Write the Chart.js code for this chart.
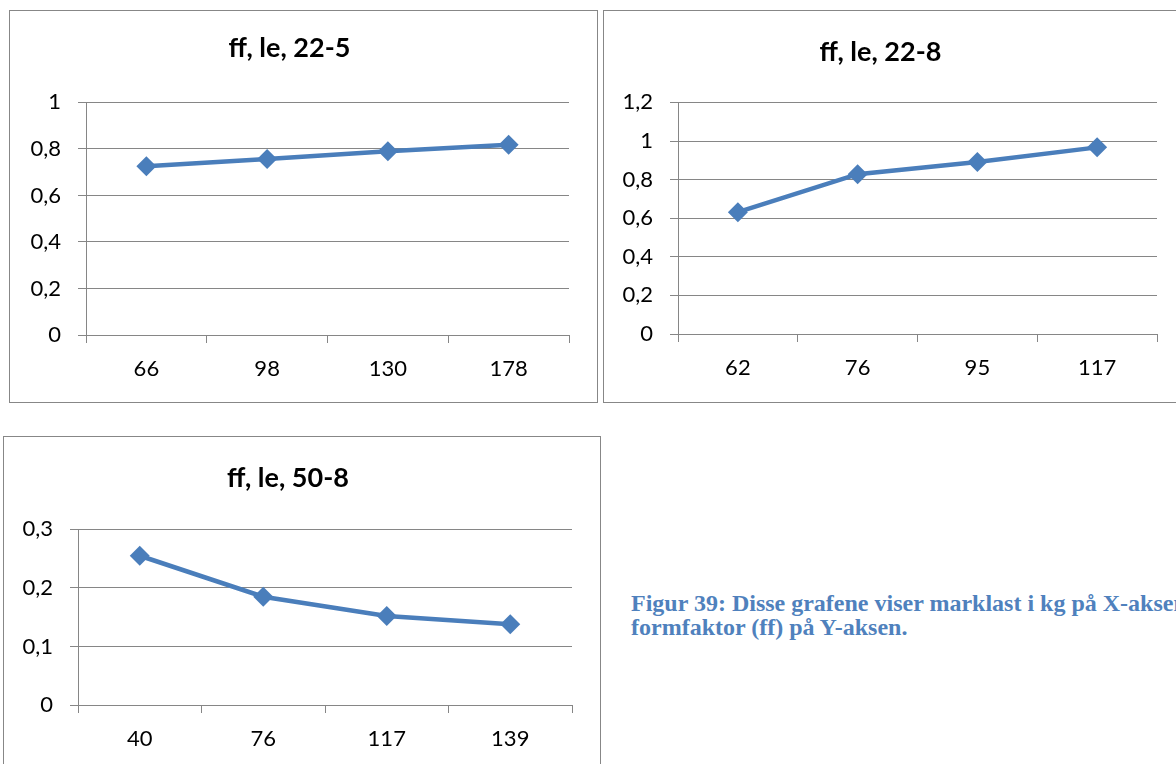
<!DOCTYPE html>
<html>
<head>
<meta charset="utf-8">
<script src="https://cdn.jsdelivr.net/npm/chart.js@4.4.0/dist/chart.umd.min.js"></script>
<style>
	body { margin: 0; background: #ffffff; width: 1176px; height: 764px; overflow: hidden; position: relative; }
	.box { position: absolute; border: 1px solid #878787; background: #fff; }
	.box canvas { display: block; }
	#caption {
		position: absolute; left: 631px; top: 591px;
		font: bold 24px "Liberation Serif", "Times New Roman", serif;
		color: #4f81bd; line-height: 24px; white-space: nowrap;
	}
</style>
</head>
<body>

<div class="box" style="left:9px; top:10px;"><canvas id="c225" width="587" height="391"></canvas></div>
<div class="box" style="left:603px; top:10px;"><canvas id="c228" width="574" height="391"></canvas></div>
<div class="box" style="left:3px; top:436px;"><canvas id="c508" width="596" height="338"></canvas></div>

<div id="caption">Figur 39: Disse grafene viser marklast i kg på X-aksen og<br>formfaktor (ff) på Y-aksen.</div>

<script>
// marklast (kg) og formfaktor (ff)
const titles = ['ff, le, 22-5', 'ff, le, 22-8', 'ff, le, 50-8'];

const kg_22_5 = ['66', '98', '130', '178'];
const ff_22_5 = [0.725, 0.757, 0.79, 0.818];

const kg_22_8 = ['62', '76', '95', '117'];
const ff_22_8 = [0.631, 0.828, 0.891, 0.967];

const kg_50_8 = ['40', '76', '117', '139'];
const ff_50_8 = [0.255, 0.185, 0.152, 0.138];

// y-akse: maks og steg
const yMax = [1, 1.2, 0.3];
const yStep = [0.2, 0.2, 0.1];

const blue = '#4a7ebb';
const grey = '#868686';
const tickFont = { family: 'Lato, "Open Sans", sans-serif', size: 22 };

function commaNum(v) {
	return String(Number(v.toFixed(2))).replace('.', ',');
}

function makeChart(id, title, labels, values, max, step, lay) {
	new Chart(document.getElementById(id), {
		type: 'line',
		data: {
			labels: labels,
			datasets: [{
				data: values,
				borderColor: blue,
				backgroundColor: blue,
				borderWidth: 4.5,
				pointStyle: 'rectRot',
				pointRadius: 10,
				pointBorderWidth: 0,
				tension: 0,
			}]
		},
		options: {
			responsive: false,
			animation: false,
			layout: { padding: { left: 0, right: lay.right, top: 0, bottom: 0 } },
			plugins: {
				legend: { display: false },
				tooltip: { enabled: false },
				title: {
					display: true,
					text: title,
					color: '#000',
					font: { family: 'Lato, "Open Sans", sans-serif', size: 27, weight: 'bold' },
					padding: { top: lay.titleTop, bottom: lay.titleBottom }
				}
			},
			scales: {
				x: {
					offset: true,
					grid: { offset: true, drawOnChartArea: false, drawTicks: true, tickLength: 8, color: grey, lineWidth: 1 },
					border: { display: true, color: grey, width: 1 },
					ticks: { color: '#000', font: tickFont, padding: 13, maxRotation: 0 },
					afterFit: s => { s.height = lay.xHeight; }
				},
				y: {
					min: 0,
					max: max,
					ticks: { stepSize: step, color: '#000', font: tickFont, padding: 17, callback: v => commaNum(v) },
					grid: { color: grey, lineWidth: 1, tickLength: 8 },
					border: { display: true, color: grey, width: 1 },
					afterFit: s => { s.width = lay.yWidth; }
				}
			}
		}
	});
}

makeChart('c225', titles[0], kg_22_5, ff_22_5, yMax[0], yStep[0],
	{ right: 28, titleTop: 21, titleBottom: 38, xHeight: 67, yWidth: 76 });
makeChart('c228', titles[1], kg_22_8, ff_22_8, yMax[1], yStep[1],
	{ right: 21, titleTop: 25, titleBottom: 34, xHeight: 68, yWidth: 74 });
makeChart('c508', titles[2], kg_50_8, ff_50_8, yMax[2], yStep[2],
	{ right: 28, titleTop: 25, titleBottom: 35, xHeight: 70, yWidth: 74 });
</script>
</body>
</html>
